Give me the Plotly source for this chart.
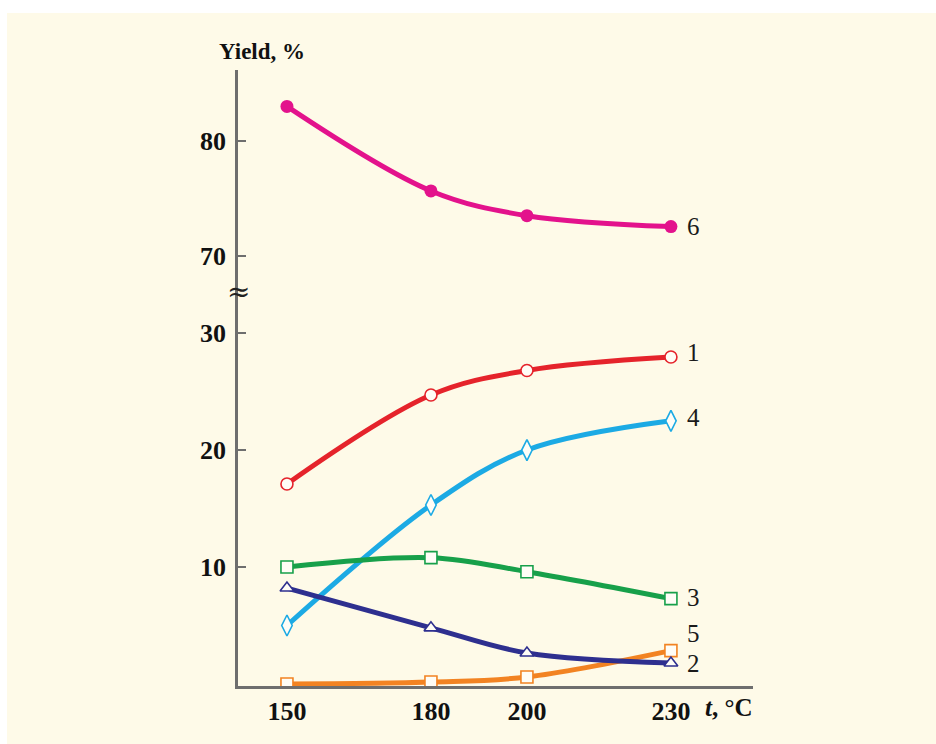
import plotly.graph_objects as go

# ---- data ----
temps = [150, 180, 200, 230]
s1 = [17.1, 24.7, 26.8, 27.95]
s2 = [8.2, 4.8, 2.65, 1.8]
s3 = [10.0, 10.8, 9.6, 7.3]
s4 = [5.0, 15.3, 20.0, 22.5]
s5 = [0.0, 0.17, 0.6, 2.85]
s6 = [83.0, 75.65, 73.5, 72.55]

x_ticks = [150, 180, 200, 230]
y_low_ticks = [10, 20, 30]
y_high_ticks = [70, 80]

FONT = "Liberation Serif, Times New Roman, serif"
AXC = "#6e6e6e"
BG = "#FEFAE8"

series = [
    # name, values, color, symbol, fill, axis, label yshift
    ("6", s6, "#E3128C", "circle", "#E3128C", "y2", 0),
    ("1", s1, "#E5232B", "circle", None, "y", 5),
    ("4", s4, "#1CAAE4", "diamond-tall", None, "y", 3),
    ("3", s3, "#17A04A", "square", None, "y", 1),
    ("5", s5, "#F28322", "square", None, "y", 17),
    ("2", s2, "#2E2F8F", "triangle-up", None, "y", -1),
]

fig = go.Figure()
for name, vals, col, sym, fill, ax, _ in series:
    fig.add_trace(go.Scatter(
        x=temps, y=vals, yaxis=ax, mode="lines",
        line=dict(color=col, width=5, shape="spline", smoothing=1.0),
        hoverinfo="skip", showlegend=False,
    ))
    if fill:
        mk = dict(symbol="circle", size=13, color=fill, line=dict(width=0))
    else:
        sz = 15 if sym == "diamond-tall" else 12
        mk = dict(symbol=sym, size=sz, color="#FFFDF6",
                  line=dict(color=col, width=1.6))
    fig.add_trace(go.Scatter(
        x=temps, y=vals, yaxis=ax, mode="markers", marker=mk,
        hoverinfo="skip", showlegend=False,
    ))

annotations = []
for name, vals, col, sym, fill, ax, ysh in series:
    annotations.append(dict(
        x=temps[-1], y=vals[-1], xref="x", yref=ax, text=name,
        showarrow=False, xshift=23, yshift=ysh,
        font=dict(family=FONT, size=25, color="#1a1a1a"),
    ))

annotations += [
    dict(x=0, y=1, xref="paper", yref="paper", text="<b>Yield, %</b>",
         showarrow=False, xanchor="center", yanchor="bottom", yshift=4, xshift=24,
         font=dict(family=FONT, size=23, color="#111")),
    dict(x=230, y=0, xref="x", yref="paper", text="<b><i>t</i>, °C</b>",
         showarrow=False, xanchor="left", yanchor="top", xshift=32, yshift=-6,
         font=dict(family=FONT, size=25, color="#111")),
    dict(x=0, y=0.6429, xref="paper", yref="paper", text="≈",
         showarrow=False, xanchor="center", yanchor="middle", yshift=-2,
         font=dict(family="DejaVu Serif", size=28, color="#222")),
]

tickfont = dict(family=FONT, size=26, color="#111", weight="bold")

fig.update_layout(
    width=936, height=744,
    margin=dict(l=238, r=183, t=70, b=58),
    paper_bgcolor="white", plot_bgcolor="rgba(0,0,0,0)",
    xaxis=dict(range=[139.8, 247.1], tickvals=x_ticks, showgrid=False,
               zeroline=False, showline=True, linecolor=AXC, linewidth=2.5,
               ticks="", tickfont=tickfont, ticklabelstandoff=0,
               anchor="y"),
    yaxis=dict(domain=[0, 0.6429], range=[-0.17, 33.68], tickvals=y_low_ticks,
               showgrid=False, zeroline=False, showline=True, linecolor=AXC,
               linewidth=2.5, ticks="inside", ticklen=8, tickwidth=2,
               tickcolor=AXC, tickfont=tickfont, ticklabelstandoff=4,
               anchor="x"),
    yaxis2=dict(domain=[0.6429, 1], range=[67.04, 86.17], tickvals=y_high_ticks,
                showgrid=False, zeroline=False, showline=True, linecolor=AXC,
                linewidth=2.5, ticks="inside", ticklen=8, tickwidth=2,
                tickcolor=AXC, tickfont=tickfont, ticklabelstandoff=4,
                anchor="x"),
    annotations=annotations,
    shapes=[dict(type="rect", xref="paper", yref="paper", layer="below",
                 x0=(7 - 238) / 515, x1=(936 - 238) / 515,
                 y0=(686 - 744) / 616, y1=(686 - 13) / 616,
                 fillcolor=BG, line=dict(width=0))],
    hovermode=False,
)

fig.write_html("out.html")
